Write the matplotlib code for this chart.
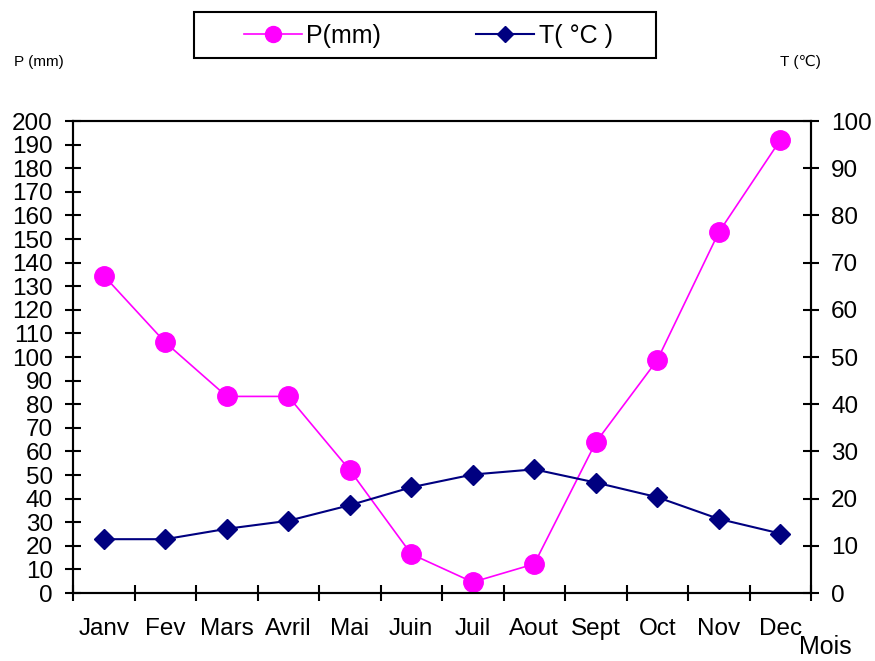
import matplotlib
matplotlib.use("Agg")
import matplotlib.pyplot as plt
from matplotlib.patches import Rectangle
from matplotlib.ticker import FixedLocator, NullFormatter, FixedFormatter

plt.rcParams['font.family'] = ['Liberation Sans', 'DejaVu Sans']

months = ["Janv", "Fev", "Mars", "Avril", "Mai", "Juin",
          "Juil", "Aout", "Sept", "Oct", "Nov", "Dec"]
precip_mm = [134.5, 106.2, 83.3, 83.3, 52.1, 16.5, 4.6, 12.3, 63.8, 98.7, 152.8, 191.9]
temp_c = [11.4, 11.4, 13.6, 15.3, 18.6, 22.4, 25.1, 26.2, 23.4, 20.3, 15.7, 12.6]
p_ticks = list(range(0, 201, 10))
t_ticks = list(range(0, 101, 10))

W, H = 875, 661
fig = plt.figure(figsize=(W / 100, H / 100), dpi=100)
ax = fig.add_axes([73 / W, 1 - 593 / H, (811 - 73) / W, (593 - 121) / H])
ax2 = ax.twinx()

x = list(range(len(months)))
lp, = ax.plot(x, precip_mm, color="#ff00ff", lw=1.2, marker="o", ms=14,
              markeredgecolor="#ff00ff", label="P(mm)", zorder=3)
lt, = ax2.plot(x, temp_c, color="#000080", lw=1.5, marker="D", ms=10.5,
               markeredgecolor="#000080", label="T( °C )", zorder=3)

ax.set_xlim(-0.5, len(months) - 0.5)
ax.set_ylim(0, 200)
ax2.set_ylim(0, 100)

ax.yaxis.set_major_locator(FixedLocator(p_ticks))
ax2.yaxis.set_major_locator(FixedLocator(t_ticks))

# Tick marks sit on the category boundaries, month names on the centers
ax.xaxis.set_major_locator(FixedLocator([i - 0.5 for i in range(len(months) + 1)]))
ax.xaxis.set_major_formatter(NullFormatter())
ax.xaxis.set_minor_locator(FixedLocator(x))
ax.xaxis.set_minor_formatter(FixedFormatter(months))
ax.tick_params(axis="x", which="minor", length=0, pad=18, labelsize=17.5)
ax.tick_params(axis="x", which="major", direction="inout", length=12, width=1.5)
ax.tick_params(axis="y", direction="inout", length=12, width=1.5, pad=8.5, labelsize=17.5)
ax2.tick_params(axis="y", direction="inout", length=12, width=1.5, pad=8.5, labelsize=17.5)

for a in (ax, ax2):
    for s in a.spines.values():
        s.set_linewidth(1.5)
        s.set_color("black")

fig.text(14 / W, 1 - 62 / H, "P (mm)", fontsize=11, va="center", ha="left")
fig.text(780 / W, 1 - 62 / H, "T (℃)", fontsize=11, va="center", ha="left")
fig.text(799 / W, 1 - 659 / H, "Mois", fontsize=18, va="bottom", ha="left")

# Legend entries with a plain rectangular frame around them
fig.patches.append(Rectangle((194 / W, 1 - 58 / H), (656 - 194) / W, (58 - 12) / H,
                             transform=fig.transFigure, fill=False,
                             edgecolor="black", linewidth=1.5))
leg = fig.legend(handles=[lp, lt], loc="center left",
                 bbox_to_anchor=(244 / W, 1 - 36 / H),
                 ncol=2, fontsize=18, frameon=False, handlelength=2.3,
                 handletextpad=0.2, columnspacing=3.8, borderpad=0, borderaxespad=0)
for h in leg.legend_handles:
    h.set_markersize(11.5 if h.get_marker() == "o" else 8.5)

fig.savefig("out.png", dpi=100)
